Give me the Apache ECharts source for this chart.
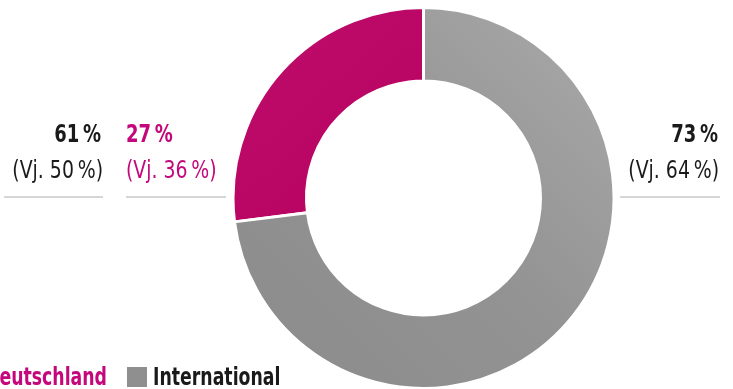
<!DOCTYPE html>
<html>
<head>
<meta charset="utf-8">
<script src="https://cdn.jsdelivr.net/npm/echarts@6/dist/echarts.min.js"></script>
<style>
html,body{margin:0;padding:0;background:#fff;}
#c{width:733px;height:389px;}
</style>
</head>
<body>
<div id="c"></div>
<script>
const categories = ['Deutschland', 'International'];
const values = [27, 73];
const prevValues = [36, 64];
const extraLabel = {value: 61, prev: 50};
const textColors = ['#c4077a', '#1a1a1a'];

const FONT = "'DejaVu Sans Condensed', 'DejaVu Sans', sans-serif";
const SX = 0.8;
const SXN = 0.84;
const chart = echarts.init(document.getElementById('c'));

function pct(v){ return v + '\u2009%'; }

function txt(x, y, text, bold, color, align, size, sx){
  return {type:'text', x:x, y:y, scaleX: sx || SX, scaleY: 1, silent:true,
    style:{x:0, y:0, text:text, font:(bold?'bold ':'') + (size||25) + 'px ' + FONT,
      fill:color, align:align, verticalAlign:'middle'}};
}
const lineStyle = {stroke: '#c8c8c8', lineWidth: 1.5};
const graphics = [
  txt(101, 135, pct(extraLabel.value), true, '#1a1a1a', 'right'),
  txt(103, 171, '(Vj. ' + pct(extraLabel.prev) + ')', false, '#1a1a1a', 'right', 25, SXN),
  {type:'line', shape:{x1:4, y1:197, x2:103, y2:197}, style: lineStyle, silent:true},
  txt(126, 135, pct(values[0]), true, textColors[0], 'left'),
  txt(126, 171, '(Vj. ' + pct(prevValues[0]) + ')', false, textColors[0], 'left', 25, SXN),
  {type:'line', shape:{x1:126, y1:197, x2:226, y2:197}, style: lineStyle, silent:true},
  txt(718, 135, pct(values[1]), true, textColors[1], 'right'),
  txt(719, 171, '(Vj. ' + pct(prevValues[1]) + ')', false, textColors[1], 'right', 25, SXN),
  {type:'line', shape:{x1:620, y1:197, x2:720, y2:197}, style: lineStyle, silent:true},
  // legend
  {type:'rect', shape:{x:-33, y:367, width:20, height:20}, style:{fill:'#bd0a6a'}, silent:true},
  txt(107, 378, categories[0], true, textColors[0], 'right', 25, 0.77),
  {type:'rect', shape:{x:127, y:367, width:20, height:20}, style:{fill:'#8f8f8f'}, silent:true},
  txt(153, 378, categories[1], true, textColors[1], 'left', 25, 0.77)
];

chart.setOption({
  animation: false,
  legend: {show:false, data: categories},
  graphic: graphics,
  series: [{
    type: 'pie',
    center: [423.5, 198],
    radius: [117, 190.5],
    startAngle: 90,
    clockwise: false,
    label: {show:false},
    labelLine: {show:false},
    silent: true,
    itemStyle: {borderColor:'#fff', borderWidth: 3},
    data: categories.map((c,i)=>({
      name: c, value: values[i],
      itemStyle: {color: i===0 ?
        new echarts.graphic.LinearGradient(0,0,1,1,[{offset:0,color:'#bf0e6c'},{offset:1,color:'#b6005e'}]) :
        new echarts.graphic.LinearGradient(1,0,0,1,[{offset:0,color:'#aaaaaa'},{offset:0.5,color:'#939393'},{offset:1,color:'#8b8b8b'}])
      }
    }))
  }]
});
</script>
</body>
</html>
